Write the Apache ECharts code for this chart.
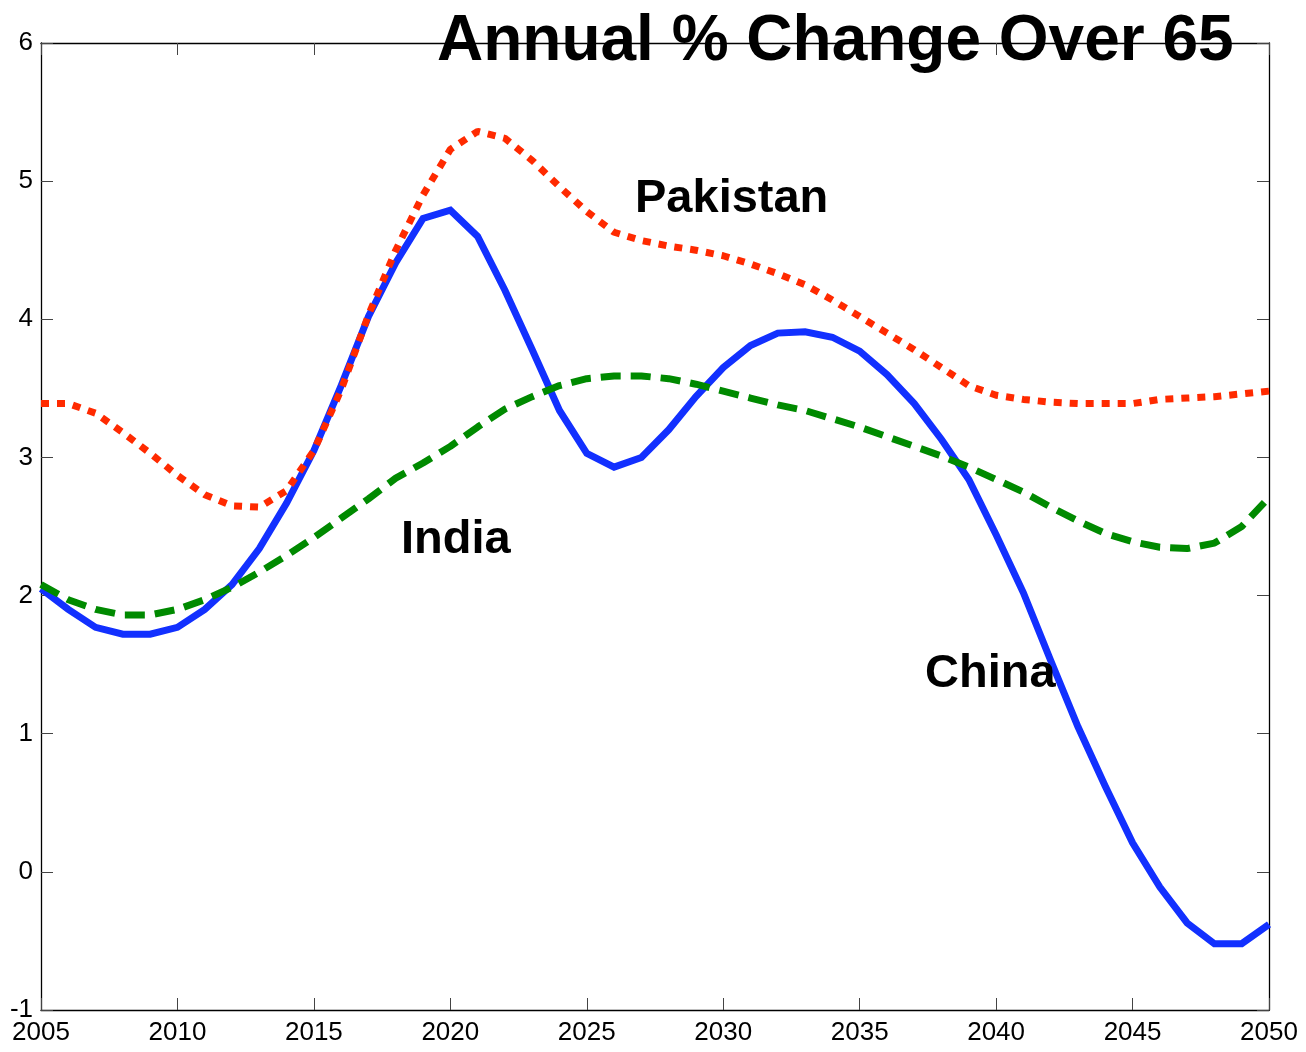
<!DOCTYPE html>
<html>
<head>
<meta charset="utf-8">
<script src="https://cdn.jsdelivr.net/npm/echarts@6/dist/echarts.min.js"></script>
<style>
html,body{margin:0;padding:0;background:#fff;}
#chart{width:1306px;height:1052px;}
</style>
</head>
<body>
<div id="chart"></div>
<script>
const years = [2005,2006,2007,2008,2009,2010,2011,2012,2013,2014,2015,2016,2017,2018,2019,2020,2021,2022,2023,2024,2025,2026,2027,2028,2029,2030,2031,2032,2033,2034,2035,2036,2037,2038,2039,2040,2041,2042,2043,2044,2045,2046,2047,2048,2049,2050];
const china = [2.05,1.90,1.77,1.72,1.72,1.77,1.90,2.08,2.34,2.67,3.05,3.52,4.02,4.41,4.73,4.79,4.60,4.21,3.78,3.34,3.03,2.93,3.00,3.20,3.44,3.65,3.81,3.90,3.91,3.87,3.77,3.60,3.39,3.13,2.84,2.44,2.02,1.53,1.05,0.62,0.21,-0.11,-0.37,-0.52,-0.52,-0.38];
const india = [2.08,1.97,1.90,1.86,1.86,1.90,1.97,2.06,2.17,2.29,2.42,2.56,2.70,2.85,2.96,3.08,3.22,3.35,3.44,3.52,3.57,3.59,3.59,3.57,3.53,3.48,3.43,3.38,3.34,3.28,3.22,3.15,3.08,3.01,2.93,2.84,2.75,2.64,2.54,2.45,2.39,2.35,2.34,2.38,2.50,2.71];
const pakistan = [3.39,3.39,3.32,3.18,3.03,2.87,2.73,2.65,2.64,2.76,3.05,3.49,4.03,4.50,4.90,5.23,5.36,5.31,5.15,4.96,4.78,4.63,4.57,4.53,4.50,4.46,4.40,4.33,4.25,4.14,4.02,3.90,3.78,3.65,3.52,3.45,3.42,3.40,3.39,3.39,3.39,3.42,3.43,3.44,3.46,3.48];
const xTicks = [2005,2010,2015,2020,2025,2030,2035,2040,2045,2050];
const yTicks = [-1,0,1,2,3,4,5,6];
const titleText = "Annual % Change Over 65";
const seriesNames = ["China","India","Pakistan"];

const pair = arr => years.map((y,i)=>[y,arr[i]]);
const font = "'Liberation Sans', Arial, Helvetica, sans-serif";
const chart = echarts.init(document.getElementById('chart'), null, {renderer:'canvas'});

const baseX = {
  type:'value', min:xTicks[0], max:xTicks[xTicks.length-1], interval:5,
  axisLine:{show:true, onZero:false, lineStyle:{color:'#000', width:1.3}},
  axisTick:{show:true, inside:true, length:12, lineStyle:{color:'#444', width:1}},
  splitLine:{show:false}
};
const baseY = {
  type:'value', min:yTicks[0], max:yTicks[yTicks.length-1], interval:1,
  axisLine:{show:true, onZero:false, lineStyle:{color:'#000', width:1.3}},
  axisTick:{show:true, inside:true, length:12, lineStyle:{color:'#444', width:1}},
  splitLine:{show:false}
};

chart.setOption({
  animation:false,
  backgroundColor:'#fff',
  grid:{left:41, right:37, top:43, bottom:42, containLabel:false},
  xAxis:[
    Object.assign({}, baseX, {position:'bottom',
      axisLabel:{show:true, color:'#000', fontSize:26, fontFamily:font, margin:10, showMinLabel:true, showMaxLabel:true,
        formatter: v => String(v)}}),
    Object.assign({}, baseX, {position:'top', axisLabel:{show:false}})
  ],
  yAxis:[
    Object.assign({}, baseY, {position:'left',
      axisLabel:{show:true, color:'#000', fontSize:26, fontFamily:font, margin:8, showMinLabel:true, showMaxLabel:true,
        formatter: v => String(v)}}),
    Object.assign({}, baseY, {position:'right', axisLabel:{show:false}})
  ],
  series:[
    {name:seriesNames[0], type:'line', data:pair(china), showSymbol:false, symbol:'none',
      lineStyle:{color:'#1230ff', width:7, type:'solid', join:'miter'}, z:2},
    {name:seriesNames[1], type:'line', data:pair(india), showSymbol:false, symbol:'none',
      lineStyle:{color:'#008a00', width:7, type:[20,10], cap:'butt'}, z:3},
    {name:seriesNames[2], type:'line', data:pair(pakistan), showSymbol:false, symbol:'none',
      lineStyle:{color:'#ff2a00', width:7, type:[8,8], cap:'butt'}, z:4}
  ],
  graphic:[
    {type:'text', left:437, top:10, z:100, style:{text:titleText, fill:'#000', font:"bold 64px "+font}},
    {type:'text', left:635, top:176, z:100, style:{text:seriesNames[2], fill:'#000', font:"bold 47px "+font}},
    {type:'text', left:401, top:517, z:100, style:{text:seriesNames[1], fill:'#000', font:"bold 47px "+font}},
    {type:'text', left:925, top:651, z:100, style:{text:seriesNames[0], fill:'#000', font:"bold 47px "+font}}
  ]
});
</script>
</body>
</html>
